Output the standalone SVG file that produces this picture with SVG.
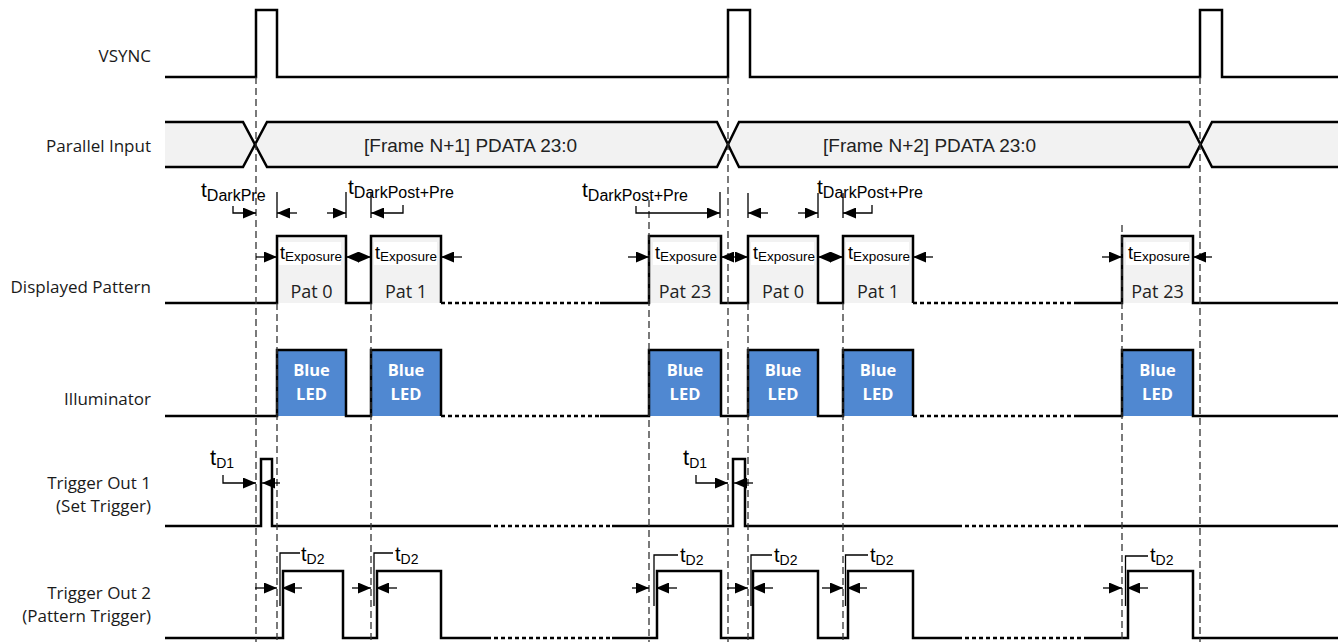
<svg xmlns="http://www.w3.org/2000/svg" width="1338" height="642" viewBox="0 0 1338 642">
<style>
.bg{fill:#fff}
.wave{fill:none;stroke:#000;stroke-width:2.5;stroke-linejoin:miter}
.dot{fill:none;stroke:#000;stroke-width:2.5;stroke-dasharray:4 3}
.dash{fill:none;stroke:#333;stroke-width:1.3;stroke-dasharray:7 4}
.tick{fill:none;stroke:#000;stroke-width:1.3}
.dim{fill:none;stroke:#000;stroke-width:1.3}
.lbl{font-family:"Open Sans","Noto Sans",sans-serif;font-size:17px;fill:#1a1a1a;text-anchor:end}
.frame{font-family:"Liberation Sans",Arial,sans-serif;font-size:19px;fill:#222}
.tt{font-family:"Liberation Sans",Arial,sans-serif;fill:#000}
.pat{font-family:"Open Sans","Noto Sans",sans-serif;font-size:18px;fill:#222;text-anchor:middle}
.led{font-family:"Open Sans","Noto Sans",sans-serif;font-size:16.5px;font-weight:bold;fill:#fff;text-anchor:middle}
.gray{fill:#f2f2f2}
.blue{fill:#5088d1}
.wb{fill:#fff}
</style>
<defs>
<marker id="ah" viewBox="0 0 13 11" refX="13" refY="5.5" markerWidth="13" markerHeight="11" markerUnits="userSpaceOnUse" orient="auto-start-reverse"><path d="M0,0 L13,5.5 L0,11 z" fill="#000"/></marker>
</defs>
<rect class="bg" x="0" y="0" width="1338" height="642"/>

<g id="labels">
<text class="lbl" x="151" y="62">VSYNC</text>
<text class="lbl" x="151" y="152">Parallel Input</text>
<text class="lbl" x="151" y="293">Displayed Pattern</text>
<text class="lbl" x="151" y="405">Illuminator</text>
<text class="lbl" x="151" y="489">Trigger Out 1</text>
<text class="lbl" x="151" y="512">(Set Trigger)</text>
<text class="lbl" x="151" y="599">Trigger Out 2</text>
<text class="lbl" x="151" y="622">(Pattern Trigger)</text>
</g>

<g id="vsync">
<path class="wave" d="M165,77 H256 V10 H277 V77 H728 V10 H750 V77 H1200 V10 H1222 V77 H1338"/>
</g>

<g id="parallel-input">
<polygon class="gray" points="165,122 243,122 255,144.5 243,167 165,167"/>
<polygon class="gray" points="267,122 717,122 728,144.5 717,167 267,167 255,144.5"/>
<polygon class="gray" points="739,122 1189,122 1200.5,144.5 1189,167 739,167 728,144.5"/>
<polygon class="gray" points="1212,122 1338,122 1338,167 1212,167 1200.5,144.5"/>
<path class="wave" d="M165,122 H243 L267,167 H717 L739,122 H1189 L1212,167 H1338"/>
<path class="wave" d="M165,167 H243 L267,122 H717 L739,167 H1189 L1212,122 H1338"/>
<text class="frame" x="364" y="152">[Frame N+1] PDATA 23:0</text>
<text class="frame" x="823" y="152">[Frame N+2] PDATA 23:0</text>
</g>

<g id="displayed-pattern">
<rect class="gray" x="278" y="237" width="67" height="66"/>
<rect class="gray" x="372" y="237" width="68" height="66"/>
<rect class="gray" x="650" y="237" width="70" height="66"/>
<rect class="gray" x="749" y="237" width="68" height="66"/>
<rect class="gray" x="844" y="237" width="68" height="66"/>
<rect class="gray" x="1123" y="237" width="69" height="66"/>
<rect class="wb" x="279" y="242" width="62" height="23"/>
<rect class="wb" x="374" y="242" width="63" height="23"/>
<rect class="wb" x="653" y="242" width="64" height="23"/>
<rect class="wb" x="751" y="242" width="63" height="23"/>
<rect class="wb" x="846" y="242" width="63" height="23"/>
<rect class="wb" x="1126" y="242" width="63" height="23"/>
<path class="wave" d="M165,303 H277 V236 H346 V303 H371 V236 H441 V303"/>
<path class="dot" d="M441,303 H600"/>
<path class="wave" d="M600,303 H649 V236 H721 V303 H748 V236 H818 V303 H843 V236 H913 V303"/>
<path class="dot" d="M913,303 H1075"/>
<path class="wave" d="M1075,303 H1122 V236 H1193 V303 H1338"/>
<g class="tt">
<text x="280" y="259"><tspan font-size="18">t</tspan><tspan font-size="13.5" dy="2">Exposure</tspan></text>
<text x="375" y="259"><tspan font-size="18">t</tspan><tspan font-size="13.5" dy="2">Exposure</tspan></text>
<text x="655" y="259"><tspan font-size="18">t</tspan><tspan font-size="13.5" dy="2">Exposure</tspan></text>
<text x="753" y="259"><tspan font-size="18">t</tspan><tspan font-size="13.5" dy="2">Exposure</tspan></text>
<text x="848" y="259"><tspan font-size="18">t</tspan><tspan font-size="13.5" dy="2">Exposure</tspan></text>
<text x="1128" y="259"><tspan font-size="18">t</tspan><tspan font-size="13.5" dy="2">Exposure</tspan></text>
</g>
<text class="pat" x="311.5" y="298">Pat 0</text>
<text class="pat" x="406" y="298">Pat 1</text>
<text class="pat" x="685" y="298">Pat 23</text>
<text class="pat" x="783" y="298">Pat 0</text>
<text class="pat" x="878" y="298">Pat 1</text>
<text class="pat" x="1157.5" y="298">Pat 23</text>
</g>

<g id="illuminator">
<rect class="blue" x="277" y="350" width="69" height="66"/>
<rect class="blue" x="371" y="350" width="70" height="66"/>
<rect class="blue" x="649" y="350" width="72" height="66"/>
<rect class="blue" x="748" y="350" width="70" height="66"/>
<rect class="blue" x="843" y="350" width="70" height="66"/>
<rect class="blue" x="1122" y="350" width="71" height="66"/>
<path class="wave" d="M165,416 H277 V350 H346 V416 H371 V350 H441 V416"/>
<path class="dot" d="M441,416 H600"/>
<path class="wave" d="M600,416 H649 V350 H721 V416 H748 V350 H818 V416 H843 V350 H913 V416"/>
<path class="dot" d="M913,416 H1075"/>
<path class="wave" d="M1075,416 H1122 V350 H1193 V416 H1338"/>
<text class="led" x="311.5" y="376">Blue</text><text class="led" x="311.5" y="400">LED</text>
<text class="led" x="406" y="376">Blue</text><text class="led" x="406" y="400">LED</text>
<text class="led" x="685" y="376">Blue</text><text class="led" x="685" y="400">LED</text>
<text class="led" x="783" y="376">Blue</text><text class="led" x="783" y="400">LED</text>
<text class="led" x="878" y="376">Blue</text><text class="led" x="878" y="400">LED</text>
<text class="led" x="1157.5" y="376">Blue</text><text class="led" x="1157.5" y="400">LED</text>
</g>

<g id="trigger-out-1">
<path class="wave" d="M165,526 H261 V459 H272 V526 H487"/>
<path class="dot" d="M487,526 H612"/>
<path class="wave" d="M612,526 H733 V459 H745 V526 H958"/>
<path class="dot" d="M958,526 H1085"/>
<path class="wave" d="M1085,526 H1338"/>
</g>

<g id="trigger-out-2">
<path class="wave" d="M165,638 H283 V571 H343 V638 H377 V571 H441 V638 H487"/>
<path class="dot" d="M487,638 H612"/>
<path class="wave" d="M612,638 H657 V571 H721 V638 H753 V571 H818 V638 H848 V571 H913 V638 H958"/>
<path class="dot" d="M958,638 H1085"/>
<path class="wave" d="M1085,638 H1128 V571 H1193 V638 H1338"/>
</g>

<g id="connectors">
<path class="dash" d="M256,77 V642"/>
<path class="dash" d="M728,77 V642"/>
<path class="dash" d="M1200,77 V642"/>
<path class="dash" d="M277,303 V642"/>
<path class="dash" d="M371,303 V642"/>
<path class="dash" d="M649,200 V642"/>
<path class="dash" d="M748,303 V642"/>
<path class="dash" d="M843,303 V642"/>
<path class="dash" d="M1122,225 V642"/>
<path class="tick" d="M277,192 V218 M346,192 V218 M371,192 V218 M720,192 V218 M748,193 V218 M818,193 V218 M843,193 V218"/>
<path class="dim" marker-end="url(#ah)" d="M233,206 V213 H256"/>
<path class="dim" marker-end="url(#ah)" d="M297,213 H277"/>
<path class="dim" marker-end="url(#ah)" d="M327,213 H346"/>
<path class="dim" marker-end="url(#ah)" d="M403,205 V213 H371"/>
<path class="dim" marker-end="url(#ah)" d="M636,206 V213 H720"/>
<path class="dim" marker-end="url(#ah)" d="M768,213 H748"/>
<path class="dim" marker-end="url(#ah)" d="M798,213 H818"/>
<path class="dim" marker-end="url(#ah)" d="M872,205 V213 H843"/>
<path class="dim" marker-end="url(#ah)" d="M256,257 H277"/>
<path class="dim" marker-start="url(#ah)" marker-end="url(#ah)" d="M346,257 H371"/>
<path class="dim" marker-end="url(#ah)" d="M462,257 H441"/>
<path class="dim" marker-end="url(#ah)" d="M628,257 H649"/>
<path class="dim" marker-start="url(#ah)" marker-end="url(#ah)" d="M721,257 H748"/>
<path class="dim" marker-start="url(#ah)" marker-end="url(#ah)" d="M818,257 H843"/>
<path class="dim" marker-end="url(#ah)" d="M933,257 H913"/>
<path class="dim" marker-end="url(#ah)" d="M1102,257 H1122"/>
<path class="dim" marker-end="url(#ah)" d="M1212,257 H1193"/>
<path class="dim" marker-end="url(#ah)" d="M223,475 V483 H256"/>
<path class="dim" marker-end="url(#ah)" d="M280,483 H262"/>
<path class="dim" marker-end="url(#ah)" d="M696,475 V483 H728"/>
<path class="dim" marker-end="url(#ah)" d="M753,483 H734"/>
<path class="dim" marker-end="url(#ah)" d="M255,588 H277"/>
<path class="dim" marker-end="url(#ah)" d="M302,588 H282"/>
<path class="dim" d="M280,606 V553 H300"/>
<path class="dim" marker-end="url(#ah)" d="M352,588 H371"/>
<path class="dim" marker-end="url(#ah)" d="M397,588 H376"/>
<path class="dim" d="M374,606 V553 H393"/>
<path class="dim" marker-end="url(#ah)" d="M632,588 H649"/>
<path class="dim" marker-end="url(#ah)" d="M677,588 H656"/>
<path class="dim" d="M654,606 V555 H678"/>
<path class="dim" marker-end="url(#ah)" d="M727,588 H748"/>
<path class="dim" marker-end="url(#ah)" d="M773,588 H752"/>
<path class="dim" d="M751,606 V555 H772"/>
<path class="dim" marker-end="url(#ah)" d="M822,588 H843"/>
<path class="dim" marker-end="url(#ah)" d="M867,588 H847"/>
<path class="dim" d="M845.5,606 V555 H868"/>
<path class="dim" marker-end="url(#ah)" d="M1103,588 H1122"/>
<path class="dim" marker-end="url(#ah)" d="M1148,588 H1127"/>
<path class="dim" d="M1125.5,606 V556 H1148"/>
</g>

<g id="timing-labels" class="tt">
<text x="201" y="197"><tspan font-size="21">t</tspan><tspan font-size="16" dy="4">DarkPre</tspan></text>
<text x="348" y="194"><tspan font-size="21">t</tspan><tspan font-size="16" dy="4">DarkPost+Pre</tspan></text>
<text x="582" y="197"><tspan font-size="21">t</tspan><tspan font-size="16" dy="4">DarkPost+Pre</tspan></text>
<text x="817" y="194"><tspan font-size="21">t</tspan><tspan font-size="16" dy="4">DarkPost+Pre</tspan></text>
<text x="210" y="465"><tspan font-size="22">t</tspan><tspan font-size="14" dy="3">D1</tspan></text>
<text x="683" y="465"><tspan font-size="22">t</tspan><tspan font-size="14" dy="3">D1</tspan></text>
<text x="301" y="561"><tspan font-size="20">t</tspan><tspan font-size="14" dy="2.5">D2</tspan></text>
<text x="395" y="561"><tspan font-size="20">t</tspan><tspan font-size="14" dy="2.5">D2</tspan></text>
<text x="680" y="562"><tspan font-size="20">t</tspan><tspan font-size="14" dy="2.5">D2</tspan></text>
<text x="774" y="562"><tspan font-size="20">t</tspan><tspan font-size="14" dy="2.5">D2</tspan></text>
<text x="870" y="562"><tspan font-size="20">t</tspan><tspan font-size="14" dy="2.5">D2</tspan></text>
<text x="1150" y="562"><tspan font-size="20">t</tspan><tspan font-size="14" dy="2.5">D2</tspan></text>
</g>
</svg>
